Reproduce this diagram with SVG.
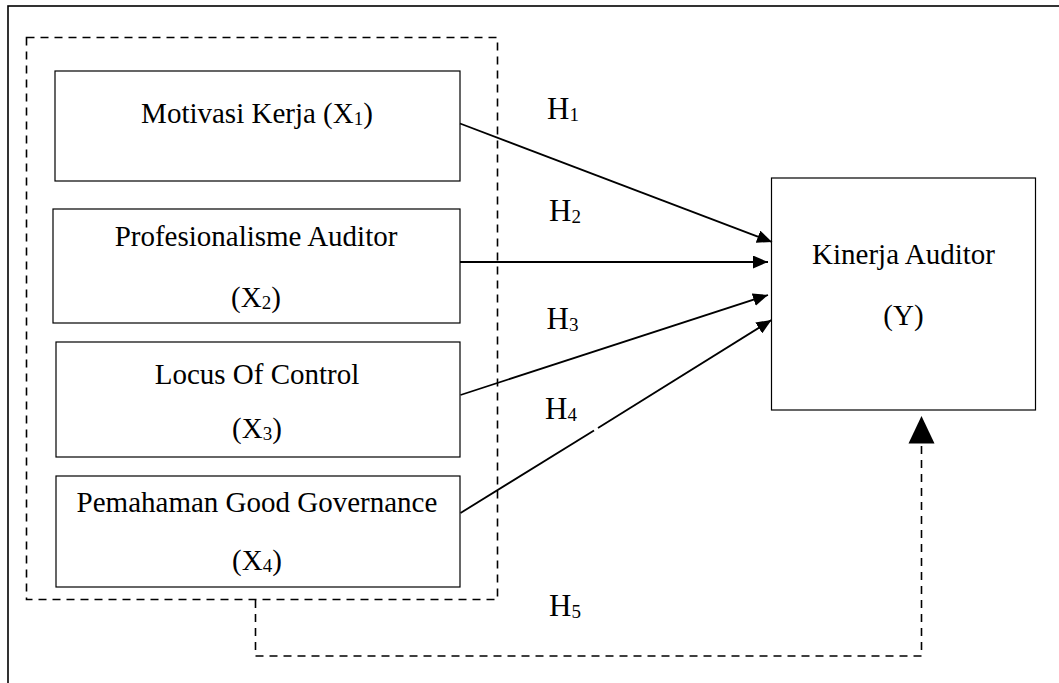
<svg xmlns="http://www.w3.org/2000/svg" width="1059" height="683" viewBox="0 0 1059 683">
<style>
text{font-family:"Liberation Serif","Times New Roman",serif;font-size:29px;fill:#000;text-anchor:middle}
.sub{font-size:19px}
.h{text-anchor:start;font-size:31px}
.box{fill:#fff;stroke:#000;stroke-width:1.2}
.dash{fill:none;stroke:#000;stroke-width:1.6;stroke-dasharray:8 6}
.conn{stroke:#000;stroke-width:1.8;fill:none}
</style>
<defs>
<marker id="arr" viewBox="0 0 15 13" refX="15" refY="6.5" markerWidth="15" markerHeight="13" markerUnits="userSpaceOnUse" orient="auto">
<path d="M0,0 L15,6.5 L0,13 Z" fill="#000"/>
</marker>
</defs>
<rect width="1059" height="683" fill="#fff"/>
<rect id="frame" x="8" y="6" width="1100" height="720" fill="none" stroke="#000" stroke-width="1.6"/>
<rect id="group" x="26.5" y="37.5" width="471" height="562" class="dash"/>
<g id="x1">
<rect class="box" x="55" y="71" width="405" height="110"/>
<text x="257" y="123">Motivasi Kerja (X<tspan class="sub" dy="2">1</tspan><tspan dy="-2">)</tspan></text>
</g>
<g id="x2">
<rect class="box" x="53" y="209" width="407" height="114" stroke-width="2.2"/>
<text x="256" y="246">Profesionalisme Auditor</text>
<text x="256" y="307">(X<tspan class="sub" dy="2">2</tspan><tspan dy="-2">)</tspan></text>
</g>
<g id="x3">
<rect class="box" x="56" y="342" width="404" height="115" stroke="#444"/>
<text x="257" y="384">Locus Of Control</text>
<text x="257" y="438">(X<tspan class="sub" dy="2">3</tspan><tspan dy="-2">)</tspan></text>
</g>
<g id="x4">
<rect class="box" x="56" y="476" width="404" height="111"/>
<text x="257" y="512">Pemahaman Good Governance</text>
<text x="257" y="570">(X<tspan class="sub" dy="2">4</tspan><tspan dy="-2">)</tspan></text>
</g>
<g id="y">
<rect class="box" x="771.5" y="178" width="264" height="232"/>
<text x="903.5" y="264">Kinerja Auditor</text>
<text x="903.5" y="325">(Y)</text>
</g>
<g id="connectors">
<line class="conn" x1="460" y1="123.5" x2="772" y2="242" marker-end="url(#arr)"/>
<line class="conn" x1="460" y1="262" x2="768" y2="262" marker-end="url(#arr)"/>
<line class="conn" x1="460.5" y1="395" x2="768" y2="295" marker-end="url(#arr)"/>
<line class="conn" x1="460.5" y1="513" x2="594" y2="430.5"/>
<line class="conn" x1="598" y1="428" x2="771.5" y2="320" marker-end="url(#arr)"/>
<path class="dash" d="M255.5,600 V656 H921.5 V443"/>
<path d="M921.5,416 L934.5,443.5 L908.5,443.5 Z" fill="#000"/>
</g>
<g id="labels">
<text class="h" x="547" y="119">H<tspan class="sub" dy="2">1</tspan></text>
<text class="h" x="549" y="220.5">H<tspan class="sub" dy="2">2</tspan></text>
<text class="h" x="546.5" y="329">H<tspan class="sub" dy="2">3</tspan></text>
<text class="h" x="545" y="419">H<tspan class="sub" dy="2">4</tspan></text>
<text class="h" x="549" y="616">H<tspan class="sub" dy="2">5</tspan></text>
</g>
</svg>
